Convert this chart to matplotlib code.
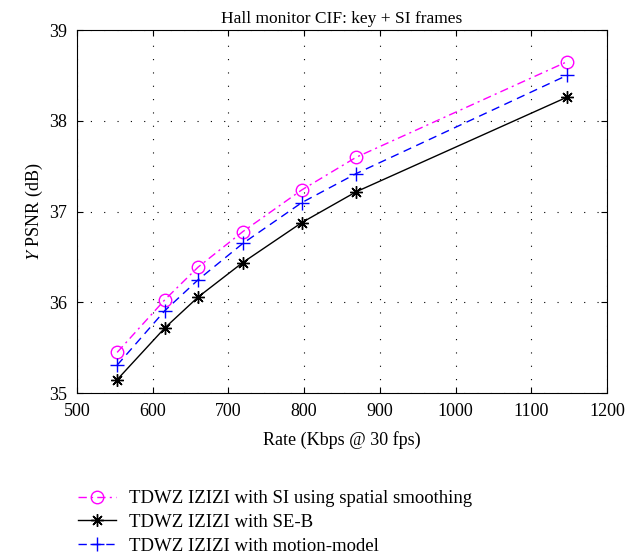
import matplotlib
matplotlib.use('Agg')
import matplotlib.pyplot as plt

# Data
rate = [553, 616, 660, 719, 797, 869, 1147]
psnr_smooth = [35.45, 36.03, 36.39, 36.78, 37.24, 37.60, 38.65]
psnr_seb = [35.15, 35.72, 36.06, 36.44, 36.88, 37.22, 38.26]
psnr_motion = [35.31, 35.91, 36.25, 36.65, 37.10, 37.42, 38.50]

labels = ['TDWZ IZIZI with SI using spatial smoothing',
          'TDWZ IZIZI with SE-B',
          'TDWZ IZIZI with motion-model']

plt.rcParams['font.family'] = ['Liberation Serif', 'DejaVu Serif']
plt.rcParams['mathtext.fontset'] = 'stix'

fig = plt.figure(figsize=(6.44, 5.6), dpi=100)
ax = fig.add_axes([0.1196, 0.2977, 0.8229, 0.6487])

ax.plot(rate, psnr_smooth, color='#ff00ff', lw=1.0, ls=(0, (6, 3, 1.5, 3)),
        marker='o', ms=9, mfc='none', mec='#ff00ff', mew=1.0, label=labels[0])
ax.plot(rate, psnr_seb, '-', color='black', lw=1.0, marker=(8, 2, 0), ms=9,
        mew=1.0, label=labels[1])
ax.plot(rate, psnr_motion, color='#0000ff', lw=1.0, ls=(0, (6, 4)),
        marker='+', ms=10, mew=1.0, label=labels[2])

ax.set_xlim(500, 1200)
ax.set_ylim(35, 39)
ax.set_xticks(range(500, 1201, 100))
ax.set_yticks([35, 36, 37, 38, 39])
ax.tick_params(direction='in', labelsize=13, length=4, pad=7,
               top=True, right=True)
ax.grid(True, linestyle=(0, (1, 11)), color='black', lw=0.8)
for s in ax.spines.values():
    s.set_linewidth(0.8)

ax.set_title('Hall monitor CIF: key + SI frames', fontsize=12.5, pad=5)
ax.set_xlabel('Rate (Kbps @ 30 fps)', fontsize=13, labelpad=8)
ax.set_ylabel('$Y$ PSNR (dB)', fontsize=13, labelpad=3)

fig.legend(loc='upper left', bbox_to_anchor=(0.11, 0.138), frameon=False,
           fontsize=13.5, handlelength=2.0, handletextpad=0.7,
           labelspacing=0.35, borderaxespad=0)

fig.savefig('out.png', dpi=100)
